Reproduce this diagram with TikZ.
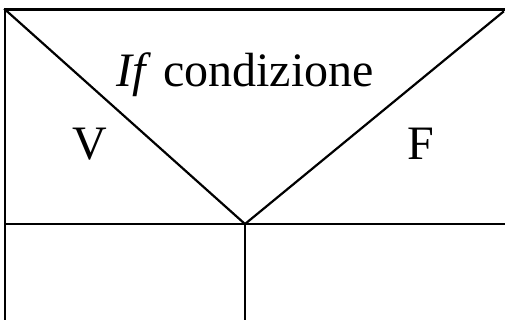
\documentclass[tikz,border=0pt]{standalone}
\usepackage{fontspec}
\setmainfont{Liberation Serif}
\begin{document}
\begin{tikzpicture}[x=1pt,y=-1pt,
  edge/.style={line width=2.2pt,line cap=rect},
  lbl/.style={anchor=base,inner sep=0pt,font=\fontsize{48}{48}\selectfont}]
\useasboundingbox (0,0) rectangle (505,320);
\coordinate (tl) at (5,9.5);
\coordinate (tr) at (505,9.5);
\coordinate (dr) at (503,12);
\coordinate (bl) at (5,320);
\coordinate (ml) at (5,224);
\coordinate (mr) at (505,224);
\coordinate (mid) at (245,224);
\coordinate (mb) at (245,320);
\draw[edge] (tr) -- (tl) -- (bl);
\draw[edge] (tl) -- (mid) -- (dr);
\draw[edge] (ml) -- (mr);
\draw[edge] (mid) -- (mb);
\node[lbl] (cond) at (245,87) {\textit{If} condizione};
\node[lbl] (v) at (90,160) {V};
\node[lbl] (f) at (421,160) {F};
\end{tikzpicture}
\end{document}
